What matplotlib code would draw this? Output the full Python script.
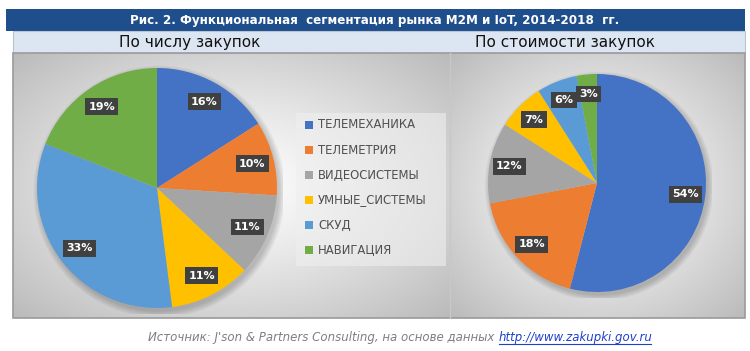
import numpy as np
import matplotlib
matplotlib.use("Agg")
import matplotlib.pyplot as plt
from matplotlib.patches import Rectangle, Circle

# ---- data ----
categories = ["ТЕЛЕМЕХАНИКА", "ТЕЛЕМЕТРИЯ", "ВИДЕОСИСТЕМЫ", "УМНЫЕ_СИСТЕМЫ", "СКУД", "НАВИГАЦИЯ"]
by_count = [16, 10, 11, 11, 33, 19]
by_value = [54, 18, 12, 7, 6, 3]
colors = ["#4472C4", "#ED7D31", "#A5A5A5", "#FFC000", "#5B9BD5", "#70AD47"]
title = "Рис. 2. Функциональная  сегментация рынка M2M и IoT, 2014-2018  гг."
sub_left = "По числу закупок"
sub_right = "По стоимости закупок"
source = "Источник: J'son & Partners Consulting, на основе данных "
link = "http://www.zakupki.gov.ru"

W, H = 750, 351
fig = plt.figure(figsize=(W / 100, H / 100), dpi=100)
fig.patch.set_facecolor("white")

bg = fig.add_axes([0, 0, 1, 1])
bg.axis("off")

# title bar
bg.add_patch(Rectangle((6, 9), 739, 22, facecolor="#1F4E8C", edgecolor="none"))
bg.text(375, 20.5, title, color="white", fontsize=9.5, fontweight="bold",
        ha="center", va="center", family="DejaVu Sans", fontstretch="condensed")
# subtitle bar
bg.add_patch(Rectangle((13, 31), 732, 22, facecolor="#DCE6F2", edgecolor="#B8C4D2", lw=0.8))
bg.text(190, 42, sub_left, fontsize=11, ha="center", va="center", color="#111111")
bg.text(565, 42, sub_right, fontsize=11, ha="center", va="center", color="#111111")


def radial(x0, x1, y0, y1):
    nx, ny = int(x1 - x0), int(y1 - y0)
    xx, yy = np.meshgrid(np.linspace(-1, 1, nx), np.linspace(-1, 1, ny))
    r = np.sqrt(xx ** 2 + yy ** 2) / np.sqrt(2)
    v = 1.0 - 0.27 * r ** 1.2
    img = np.dstack([v, v, v])
    bg.imshow(img, extent=(x0, x1, y1, y0), aspect="auto", zorder=0)


radial(13, 450, 53, 318)
radial(450, 745, 53, 318)
bg.add_patch(Rectangle((13, 53), 732, 265, facecolor="none", edgecolor="#9A9A9A", lw=1.2, zorder=2))
bg.plot([450, 450], [53, 318], color="#C8C8C8", lw=1, zorder=2)

# legend panel
bg.add_patch(Rectangle((296, 113), 150, 153, facecolor="#EFEFEF", edgecolor="none", alpha=0.6, zorder=1))
for i, (c, name) in enumerate(zip(colors, categories)):
    y = 125 + i * 25
    bg.add_patch(Rectangle((305, y - 4), 8, 8, facecolor=c, edgecolor="none", zorder=3))
    bg.text(318, y, name, fontsize=8.4, va="center", ha="left", color="#505050", zorder=3)

bg.set_xlim(0, W)
bg.set_ylim(H, 0)

# source line
t1 = bg.text(0, 338, source, fontsize=8.5, style="italic", color="#7F7F7F", va="center", ha="left")
t2 = bg.text(0, 338, link, fontsize=8.5, style="italic", color="#1F3FCC", va="center", ha="left")
fig.canvas.draw()
r = fig.canvas.get_renderer()
w1 = t1.get_window_extent(r).width
w2 = t2.get_window_extent(r).width
start = 400 - (w1 + w2) / 2
t1.set_x(start)
t2.set_x(start + w1)
bg.plot([start + w1 + 1, start + w1 + w2 - 1], [343.5, 343.5], color="#1F3FCC", lw=0.8)
bg.set_xlim(0, W)
bg.set_ylim(H, 0)


def draw_pie(values, cx, cy, rad):
    m = 6
    ax = fig.add_axes([(cx - rad - m) / W, (H - cy - rad - m) / H, (2 * rad + 2 * m) / W, (2 * rad + 2 * m) / H])
    ax.axis("off")
    for k in range(6):
        ax.add_patch(Circle((0.02, -0.03), 1.0 + 0.01 * k, facecolor="black", alpha=0.035, lw=0, zorder=0))
    ax.pie(values, colors=colors, startangle=90, counterclock=False, radius=1.0,
           wedgeprops=dict(linewidth=0, zorder=1))
    lim = (rad + m) / rad
    ax.set_xlim(-lim, lim)
    ax.set_ylim(-lim, lim)
    total = sum(values)
    ang = 90.0
    for v in values:
        mid = np.deg2rad(ang - 360.0 * v / total / 2)
        ang -= 360.0 * v / total
        x, y = 0.82 * np.cos(mid), 0.82 * np.sin(mid)
        ax.text(x, y, f"{v}%", fontsize=8, fontweight="bold", color="white", ha="center", va="center",
                zorder=5,
                bbox=dict(boxstyle="square,pad=0.3", facecolor="#404040", edgecolor="none"))


draw_pie(by_count, 157, 188, 120)
draw_pie(by_value, 597, 183, 109)

fig.savefig("out.png", dpi=100, facecolor="white")
